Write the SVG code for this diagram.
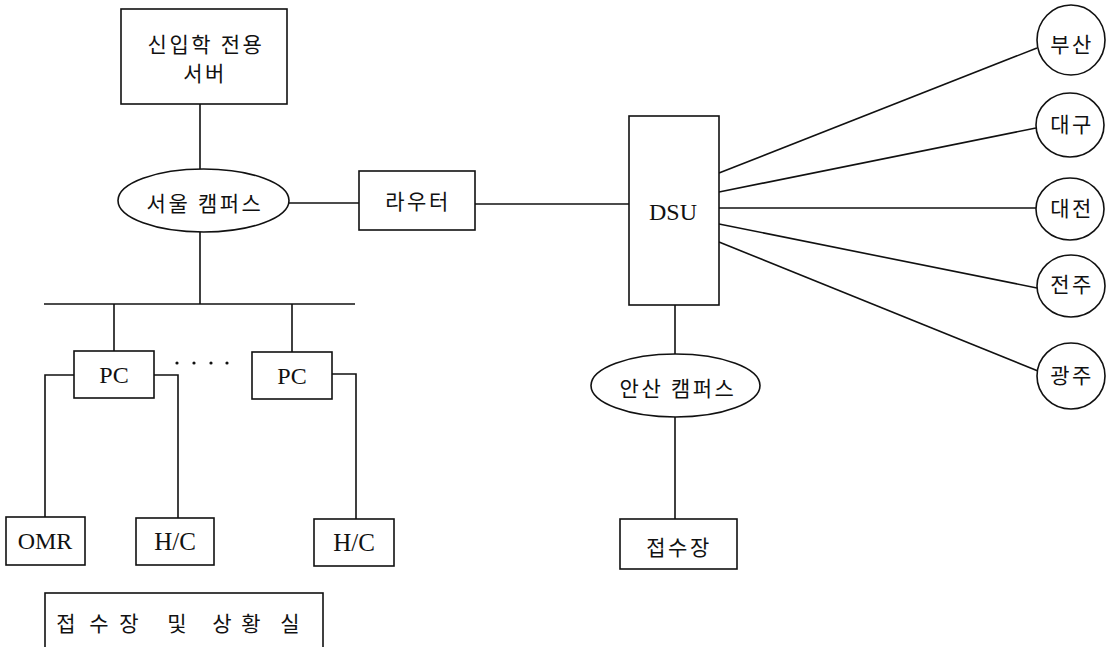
<svg xmlns="http://www.w3.org/2000/svg" width="1110" height="647" viewBox="0 0 1110 647">
  <style>
    .box { fill: #fff; stroke: #111; stroke-width: 1.6; }
    .wire { fill: none; stroke: #111; stroke-width: 1.6; }
    .ko { font-family: "Liberation Serif", "Noto Sans CJK KR", serif; font-size: 21px; fill: #111; text-anchor: middle; letter-spacing: 2.5px; }
    .en { font-family: "Liberation Serif", serif; font-size: 24px; fill: #111; text-anchor: middle; }
  </style>
  <rect width="1110" height="647" fill="#fff"/>

  <!-- connectors -->
  <g id="connectors" class="wire">
    <line x1="200" y1="104" x2="200" y2="169"/>
    <line x1="289" y1="203" x2="359" y2="203"/>
    <line x1="475" y1="204" x2="629" y2="204"/>
    <line x1="200" y1="232" x2="200" y2="304"/>
    <line x1="44" y1="304" x2="355" y2="304"/>
    <line x1="114" y1="304" x2="114" y2="351"/>
    <line x1="292" y1="304" x2="292" y2="352"/>
    <polyline points="74,375 45,375 45,517"/>
    <polyline points="154,375 178,375 178,518"/>
    <polyline points="332,374 356,374 356,519"/>
    <line x1="675" y1="305" x2="675" y2="354"/>
    <line x1="675" y1="417" x2="675" y2="519"/>
    <line x1="719" y1="173" x2="1037" y2="48"/>
    <line x1="719" y1="192" x2="1036" y2="128"/>
    <line x1="719" y1="208" x2="1036" y2="208"/>
    <line x1="719" y1="224" x2="1037" y2="288"/>
    <line x1="719" y1="242" x2="1038" y2="371"/>
  </g>
  <g id="dots" fill="#111">
    <circle cx="177" cy="363" r="1.6"/>
    <circle cx="194" cy="363" r="1.6"/>
    <circle cx="211" cy="363" r="1.6"/>
    <circle cx="227" cy="363" r="1.6"/>
  </g>

  <!-- Seoul campus side -->
  <g id="server">
    <rect class="box" x="121" y="9" width="166" height="95"/>
    <text class="ko" x="206" y="52">신입학 전용</text>
    <text class="ko" x="205" y="81">서버</text>
  </g>
  <g id="seoul-campus">
    <ellipse class="box" cx="203.5" cy="200.5" rx="85.5" ry="31.5"/>
    <text class="ko" x="205" y="211">서울 캠퍼스</text>
  </g>
  <g id="router">
    <rect class="box" x="359" y="171" width="116" height="59"/>
    <text class="ko" x="418" y="209">라우터</text>
  </g>
  <g id="pc-1">
    <rect class="box" x="74" y="351" width="80" height="47"/>
    <text class="en" x="114" y="383">PC</text>
  </g>
  <g id="pc-2">
    <rect class="box" x="252" y="352" width="80" height="47"/>
    <text class="en" x="292" y="384">PC</text>
  </g>
  <g id="omr">
    <rect class="box" x="6" y="517" width="79" height="48"/>
    <text class="en" x="45" y="549">OMR</text>
  </g>
  <g id="hc-1">
    <rect class="box" x="136" y="518" width="78" height="47"/>
    <text class="en" x="175" y="550" style="font-size:25px">H/C</text>
  </g>
  <g id="hc-2">
    <rect class="box" x="314" y="519" width="80" height="47"/>
    <text class="en" x="354" y="551" style="font-size:25px">H/C</text>
  </g>
  <g id="reception-room">
    <rect class="box" x="45" y="593" width="278" height="80"/>
    <text class="ko" y="631" style="letter-spacing:0">
      <tspan x="66">접</tspan><tspan x="99">수</tspan><tspan x="129">장</tspan><tspan x="177">및</tspan><tspan x="222">상</tspan><tspan x="251">황</tspan><tspan x="290">실</tspan>
    </text>
  </g>

  <!-- DSU and Ansan campus -->
  <g id="dsu">
    <rect class="box" x="629" y="116" width="90" height="189"/>
    <text class="en" x="673" y="220">DSU</text>
  </g>
  <g id="ansan-campus">
    <ellipse class="box" cx="675.5" cy="385.5" rx="84.5" ry="31.5"/>
    <text class="ko" x="678" y="396">안산 캠퍼스</text>
  </g>
  <g id="ansan-reception">
    <rect class="box" x="620" y="519" width="117" height="50"/>
    <text class="ko" x="679" y="555">접수장</text>
  </g>

  <!-- regional sites -->
  <g id="busan">
    <ellipse class="box" cx="1071" cy="40" rx="34" ry="35"/>
    <text class="ko" x="1072" y="52">부산</text>
  </g>
  <g id="daegu">
    <ellipse class="box" cx="1070" cy="125" rx="34" ry="32"/>
    <text class="ko" x="1072" y="132">대구</text>
  </g>
  <g id="daejeon">
    <ellipse class="box" cx="1070" cy="209" rx="34" ry="31"/>
    <text class="ko" x="1072" y="216">대전</text>
  </g>
  <g id="jeonju">
    <ellipse class="box" cx="1071" cy="286" rx="34" ry="31"/>
    <text class="ko" x="1072" y="292">전주</text>
  </g>
  <g id="gwangju">
    <ellipse class="box" cx="1071" cy="376" rx="34" ry="33"/>
    <text class="ko" x="1072" y="383">광주</text>
  </g>
</svg>
